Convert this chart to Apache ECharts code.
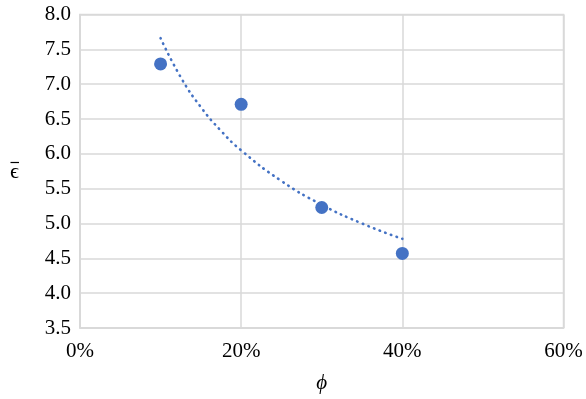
<!DOCTYPE html>
<html>
<head>
<meta charset="utf-8">
<script src="https://cdn.jsdelivr.net/npm/echarts@6/dist/echarts.min.js"></script>
<style>
  html, body { margin: 0; padding: 0; background: #fff; }
  #chart { width: 586px; height: 399px; }
</style>
</head>
<body>
<div id="chart"></div>
<script>
// Porosity (fraction) and mean strain measurements
const phiValues = [0.10, 0.20, 0.30, 0.40];
const epsValues = [7.29, 6.71, 5.23, 4.57];

// Power-type trendline through the measurements
const trendPhi = [0.10, 0.125, 0.15, 0.175, 0.20, 0.25, 0.30, 0.35, 0.40];
const trendEps = [7.66, 7.10, 6.67, 6.33, 6.05, 5.61, 5.27, 5.00, 4.78];

// Axis ranges
const xTicks = { min: 0, max: 0.6, interval: 0.2 };
const yTicks = { min: 3.5, max: 8.0, interval: 0.5 };

const blue = '#4472C4';
const grey = '#d9d9d9';
const serif = '"Liberation Serif", "Times New Roman", serif';

const chart = echarts.init(document.getElementById('chart'), null, { renderer: 'canvas' });

chart.setOption({
  animation: false,
  backgroundColor: '#fff',
  grid: { left: 80, right: 22.5, top: 14.5, bottom: 67.7, show: true, borderColor: grey, borderWidth: 1.5 },
  xAxis: {
    type: 'value',
    min: xTicks.min, max: xTicks.max, interval: xTicks.interval,
    axisLine: { show: true, lineStyle: { color: grey, width: 1.5 } },
    axisTick: { show: false },
    splitLine: { show: true, lineStyle: { color: grey, width: 1.5 } },
    axisLabel: {
      margin: 13,
      color: '#000', fontFamily: serif, fontSize: 21,
      formatter: v => Math.round(v * 100) + '%'
    },
    name: 'ϕ', nameLocation: 'middle', nameGap: 45,
    nameTextStyle: { color: '#000', fontFamily: serif, fontSize: 21, fontStyle: 'italic' }
  },
  yAxis: {
    type: 'value',
    min: yTicks.min, max: yTicks.max, interval: yTicks.interval,
    axisLine: { show: true, lineStyle: { color: grey, width: 1.5 } },
    axisTick: { show: false },
    splitLine: { show: true, lineStyle: { color: grey, width: 1.5 } },
    axisLabel: {
      margin: 9,
      color: '#000', fontFamily: serif, fontSize: 21,
      formatter: v => v.toFixed(1)
    }
  },
  // y-axis symbol: epsilon with an overbar
  graphic: [
    {
      type: 'text', left: 10, top: 161,
      style: { text: 'ϵ', fill: '#000', font: '22px ' + serif }
    },
    {
      type: 'line',
      shape: { x1: 10.5, y1: 162.5, x2: 19, y2: 162.5 },
      style: { stroke: '#000', lineWidth: 1.2 }
    }
  ],
  series: [
    {
      name: 'trend',
      type: 'line',
      data: trendPhi.map((p, i) => [p, trendEps[i]]),
      smooth: true,
      showSymbol: false,
      lineStyle: { color: blue, width: 2.6, type: [0.5, 5.5], cap: 'round' },
      z: 2
    },
    {
      name: 'measured',
      type: 'scatter',
      data: phiValues.map((p, i) => [p, epsValues[i]]),
      symbol: 'circle',
      symbolSize: 13,
      itemStyle: { color: blue, opacity: 1 },
      z: 3
    }
  ]
});
</script>
</body>
</html>
